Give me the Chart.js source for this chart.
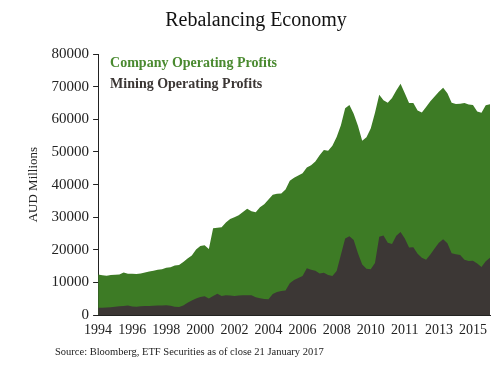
<!DOCTYPE html>
<html>
<head>
<meta charset="utf-8">
<script src="https://cdn.jsdelivr.net/npm/chart.js@4"></script>
<style>
  body { margin: 0; background: #fff; }
  #wrap { position: relative; width: 496px; height: 367px; }
  #source { position: absolute; left: 55px; top: 346px; font: 10.5px "Liberation Serif", serif; color: #222; }
</style>
</head>
<body>
<div id="wrap">
  <canvas id="chart" width="496" height="367"></canvas>
  <div id="source">Source: Bloomberg, ETF Securities as of close 21 January 2017</div>
</div>
<script>
// quarterly, Q1 1994 onwards, AUD millions
const tickLabels = ['1994', '1996', '1998', '2000', '2002', '2004', '2006', '2008', '2010', '2011', '2013', '2015'];

const companyProfits = [
  12500, 12200, 12100, 12300, 12400, 12500, 13100, 12700, 12700, 12600,
  12800, 13100, 13400, 13600, 13900, 14100, 14500, 14700, 15200, 15400,
  16300, 17400, 18300, 20100, 21200, 21400, 20300, 26600, 26800, 26900,
  28400, 29500, 30000, 30600, 31600, 32600, 31800, 31500, 33100, 34000,
  35400, 36900, 37200, 37300, 38500, 41200, 42100, 42800, 43500, 45200,
  45900, 47100, 49000, 50600, 50400, 51900, 54600, 58200, 63400, 64400,
  61700, 58000, 53400, 54500, 57200, 62000, 67500, 65800, 65100, 66500,
  68800, 70900, 68000, 65000, 65000, 62700, 62100, 63800, 65500, 67000,
  68400, 69700, 68000, 65100, 64700, 64800, 65000, 64500, 64400, 62400,
  62000, 64300, 64600
];

const miningProfits = [
  2250, 2300, 2350, 2450, 2600, 2750, 2850, 2950, 2650, 2600,
  2750, 2850, 2850, 2900, 2950, 3000, 3050, 2900, 2600, 2500,
  3000, 3800, 4500, 5100, 5600, 5800, 5100, 5900, 6600, 5900,
  6100, 6000, 5900, 6000, 6100, 6100, 6100, 5500, 5200, 5000,
  4900, 6500, 7100, 7400, 7600, 9800, 10800, 11400, 12000, 14400,
  13900, 13600, 12800, 13000, 12300, 12000, 13500, 18500, 23500, 24200,
  23000, 19000, 15500, 14200, 14100, 16000, 24000, 24400, 22200, 21800,
  24300, 25500, 23500, 20700, 20800, 18800, 17600, 17000, 18600, 20400,
  22200, 23300, 22000, 19000, 18700, 18400, 17000, 16600, 16700, 15800,
  14800, 16500, 17600
];

const green = '#3d7b25';
const dark = '#3c3735';
const serif = '"Liberation Serif", serif';

// legend is plain coloured text inside the plot, top left
const textLegend = {
  id: 'textLegend',
  afterDraw(chart) {
    const c = chart.ctx;
    const a = chart.chartArea;
    c.save();
    c.font = 'bold 14px ' + serif;
    c.textBaseline = 'middle';
    chart.data.datasets.slice().sort((p, q) => q.order - p.order).forEach((ds, i) => {
      c.fillStyle = ds.legendColor;
      c.fillText(ds.label, a.left + 12, a.top + 9 + i * 21);
    });
    c.restore();
  }
};

const toPoints = arr => arr.map((v, i) => ({ x: i, y: v }));

new Chart(document.getElementById('chart'), {
  type: 'line',
  data: {
    datasets: [
      {
        label: 'Mining Operating Profits',
        data: toPoints(miningProfits),
        backgroundColor: dark,
        legendColor: '#3b3634',
        fill: 'origin',
        order: 0
      },
      {
        label: 'Company Operating Profits',
        data: toPoints(companyProfits),
        backgroundColor: green,
        legendColor: '#4a8a30',
        fill: 'origin',
        order: 1
      }
    ]
  },
  options: {
    responsive: false,
    animation: false,
    layout: { padding: { left: 22, right: 6, top: 0, bottom: 26 } },
    elements: {
      line: { borderWidth: 0, tension: 0 },
      point: { radius: 0 }
    },
    plugins: {
      legend: { display: false },
      tooltip: { enabled: false },
      title: {
        display: true,
        text: 'Rebalancing Economy',
        color: '#111',
        font: { family: serif, size: 20, weight: 'normal' },
        padding: { top: 9, bottom: 21 }
      }
    },
    scales: {
      x: {
        type: 'linear',
        min: 0,
        max: 92,
        grid: { display: false, drawOnChartArea: false, tickLength: 5, tickColor: '#222' },
        border: { color: '#222', width: 1 },
        ticks: {
          stepSize: 8,
          includeBounds: false,
          autoSkip: false,
          maxRotation: 0,
          color: '#222',
          font: { family: serif, size: 14 },
          padding: 2,
          callback: v => tickLabels[v / 8]
        }
      },
      y: {
        min: 0,
        max: 80000,
        grid: { drawOnChartArea: false, tickLength: 5, tickColor: '#222' },
        border: { color: '#222', width: 1 },
        ticks: {
          stepSize: 10000,
          color: '#222',
          font: { family: serif, size: 15 },
          padding: 4,
          callback: v => String(v)
        },
        title: {
          display: true,
          text: 'AUD Millions',
          color: '#222',
          font: { family: serif, size: 13 },
          padding: { bottom: 6 }
        }
      }
    }
  },
  plugins: [textLegend]
});
</script>
</body>
</html>
